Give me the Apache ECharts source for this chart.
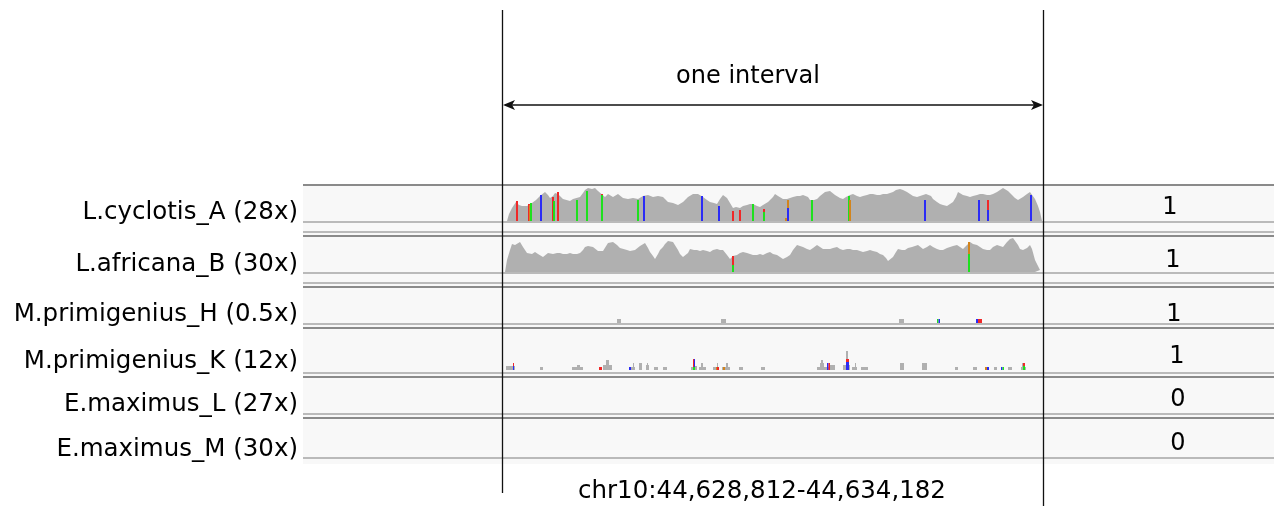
<!DOCTYPE html>
<html><head><meta charset="utf-8">
<script src="https://cdn.jsdelivr.net/npm/echarts@6/dist/echarts.min.js"></script>
<style>html,body{margin:0;padding:0;background:#fff}#c{width:1274px;height:507px}</style>
</head><body><div id="c"></div>
<script>
// ---------------- DATA ----------------
const sampleLabels = ['L.cyclotis_A (28x)','L.africana_B (30x)','M.primigenius_H (0.5x)','M.primigenius_K (12x)','E.maximus_L (27x)','E.maximus_M (30x)'];
const sampleCalls = [1,1,1,1,0,0];
const regionLabel = 'chr10:44,628,812-44,634,182';
const intervalLabel = 'one interval';
// x = bin index across the interval (542 bins of ~9.9 bp), y = autoscaled depth
const covA = [[5,0],[7,7],[10,13],[14,19],[17,16],[20,15],[25,15],[30,18],[34,21],[38,25],[43,29],[46,26],[48,23],[51,25],[53,28],[56,27],[58,26],[61,22],[63,21],[68,20],[71,22],[73,23],[78,24],[81,28],[83,31],[86,33],[88,34],[90,32],[93,33],[96,30],[98,28],[103,24],[106,27],[108,26],[111,24],[113,23],[116,27],[118,26],[121,23],[123,24],[126,22],[128,21],[131,23],[133,24],[136,22],[138,23],[141,25],[143,24],[146,26],[148,26],[151,24],[153,23],[156,25],[158,26],[161,24],[163,23],[166,19],[168,17],[171,18],[173,18],[176,16],[178,17],[181,19],[183,21],[186,24],[188,23],[191,27],[193,29],[196,27],[198,25],[201,24],[205,21],[208,19],[212,18],[215,17],[218,22],[221,26],[225,23],[228,18],[231,13],[234,14],[238,13],[241,15],[245,16],[248,17],[251,17],[255,15],[258,14],[261,16],[263,17],[266,19],[268,20],[271,24],[273,27],[276,25],[278,23],[281,22],[285,22],[288,23],[291,24],[295,25],[298,25],[301,26],[303,27],[306,24],[308,21],[312,21],[315,22],[318,25],[320,27],[323,29],[325,31],[328,30],[330,29],[333,26],[335,24],[338,23],[341,22],[344,24],[346,25],[348,26],[351,27],[355,25],[358,24],[361,25],[365,26],[368,27],[371,27],[375,26],[378,26],[381,27],[385,27],[388,28],[391,29],[394,31],[396,33],[398,32],[401,31],[405,29],[408,27],[411,25],[415,24],[418,25],[421,26],[424,27],[426,28],[429,25],[431,22],[435,19],[438,17],[441,16],[445,15],[448,17],[451,19],[454,24],[456,29],[458,28],[461,26],[465,25],[468,24],[471,25],[475,26],[478,27],[481,27],[485,26],[488,26],[491,27],[495,29],[498,31],[501,33],[503,34],[506,30],[510,26],[513,23],[516,21],[518,22],[521,24],[525,27],[528,29],[530,27],[533,22],[536,15],[538,9],[540,0]];
const covB = [[3,0],[5,12],[8,22],[10,28],[13,27],[15,27],[18,30],[21,25],[25,19],[30,18],[33,20],[36,18],[38,16],[41,15],[46,19],[48,18],[51,18],[55,19],[58,19],[61,18],[65,18],[68,19],[71,18],[75,18],[78,19],[81,22],[83,25],[86,26],[88,27],[91,25],[93,23],[96,21],[98,20],[101,21],[103,22],[106,29],[108,30],[111,30],[113,28],[115,27],[118,24],[120,22],[125,22],[128,21],[130,20],[133,22],[135,23],[138,26],[140,28],[143,29],[146,24],[148,20],[151,16],[153,13],[156,18],[158,22],[161,25],[163,28],[166,31],[168,33],[171,30],[173,28],[176,22],[178,18],[181,15],[183,13],[186,19],[188,23],[192,22],[195,22],[198,21],[201,22],[205,21],[208,20],[211,22],[215,23],[218,22],[221,22],[225,17],[228,13],[231,16],[233,15],[235,17],[238,19],[241,20],[245,19],[248,18],[251,17],[255,17],[258,18],[261,17],[265,19],[268,20],[271,18],[275,17],[278,15],[281,13],[285,15],[288,17],[291,22],[295,27],[298,26],[301,25],[305,23],[308,22],[311,24],[315,27],[318,25],[321,23],[325,23],[328,23],[331,24],[335,25],[338,23],[341,22],[345,23],[348,23],[351,22],[355,22],[358,21],[361,20],[365,21],[368,22],[371,21],[375,20],[378,18],[381,17],[384,14],[386,11],[388,12],[391,15],[394,20],[396,23],[400,22],[403,22],[406,24],[410,25],[413,26],[416,27],[418,25],[421,23],[425,25],[428,27],[431,25],[435,23],[438,22],[441,22],[445,24],[448,25],[451,26],[455,27],[458,25],[461,23],[465,27],[468,30],[471,28],[475,27],[478,25],[481,23],[485,22],[488,22],[491,25],[495,27],[498,26],[501,25],[505,30],[508,33],[511,34],[513,33],[516,27],[518,23],[521,22],[525,24],[528,27],[530,23],[533,12],[536,6],[538,2],[540,0]];
// mismatch segments: [bin, fromDepth, toDepth, base]
const misA = [[15,0,20,'T'],[27,0,17,'T'],[28,0,16,'G'],[29,0,18,'A'],[39,0,26,'C'],[51,0,24,'T'],[52,0,20,'A'],[56,0,29,'T'],[75,0,21,'A'],[85,0,30,'A'],[100,0,26,'A'],[100,26,27,'T'],[136,0,21,'A'],[142,0,25,'C'],[200,0,25,'C'],[217,0,15,'C'],[231,0,10,'T'],[238,0,11,'T'],[251,0,17,'A'],[262,0,9,'A'],[262,9,12,'T'],[284,0,3,'G'],[286,0,13,'C'],[286,13,21,'G'],[310,0,21,'A'],[347,0,25,'A'],[348,0,21,'G'],[423,0,21,'C'],[477,0,21,'C'],[486,0,11,'C'],[486,11,21,'T'],[529,0,26,'C']];
const misB = [[231,0,7,'A'],[231,7,16,'T'],[467,0,18,'A'],[467,18,30,'G']];
// sparse coverage blocks: [fromBin, toBin, fromDepth, toDepth, base] (N = reference)
const blocksH = [[115,119,0,4,'N'],[219,224,0,4,'N'],[397,402,0,4,'N'],[435,436.5,0,4,'A'],[436.5,438,0,4,'C'],[474,476,0,4,'C'],[476,480,0,4,'T']];
const blocksK = [[4,11,0,4,'N'],[11,12,0,4,'C'],[11,12,4,7,'T'],[12,13,0,4,'N'],[38,41,0,3,'N'],[70,81,0,3,'N'],[75,78,0,5,'N'],[97,100,0,3,'T'],[101,110,0,5,'N'],[104,107,0,10,'N'],[127,129,0,3,'C'],[129,133,0,3,'N'],[131,132,0,7,'N'],[137,140,0,7,'N'],[144,147,0,5,'N'],[145,146,0,7,'N'],[152,156,0,3,'N'],[161,165,0,3,'N'],[189,191,0,3,'N'],[191,193,0,3,'A'],[191,192,3,11,'T'],[192,193,3,11,'C'],[193,195,0,4,'N'],[197,204,0,3,'N'],[199,201,0,7,'N'],[211,214,0,3,'N'],[214,215,0,3,'G'],[215,217,0,3,'T'],[215,216,3,7,'N'],[220,228,0,3,'N'],[221,223,0,3,'G'],[224,226,0,7,'N'],[237,241,0,3,'N'],[259,263,0,3,'N'],[315,333,0,3,'N'],[318,322,0,7,'N'],[319,321,0,10,'N'],[325,326.5,0,7,'C'],[326.5,328,0,7,'T'],[328,333,0,5,'N'],[341,348,0,5,'N'],[344,346,0,19,'N'],[344,347,0,8,'C'],[344,347,8,11,'T'],[350,355,0,3,'N'],[353,354,0,7,'N'],[359,366,0,3,'N'],[398,402,0,7,'N'],[420,425,0,7,'N'],[453,456,0,3,'N'],[471,475,0,3,'N'],[483,485,0,3,'G'],[485,487,0,3,'C'],[492,495,0,3,'N'],[499,500.5,0,3,'C'],[500.5,502,0,3,'A'],[506,510,0,3,'N'],[519,524,0,3,'N'],[520,521,3,7,'N'],[521,523,0,4,'A'],[521,523,4,7,'T']];
const NBINS = 542;
const DEPTH_MAX = 36;

// ---------------- STYLE / LAYOUT ----------------
const baseColors = {A:'#1ee01e', C:'#2b2bf5', G:'#d2841c', T:'#f02828', N:'#b0b0b0'};
const PLOT_L = 502, PLOT_W = 542, TRACK_H = 36;
const baselines = [221, 272, 323, 370, 413, 457];
const labelY = [213, 265, 315, 362, 405, 449.5];
const callY = [208, 261, 315, 356.5, 400, 444];
const callX = [1170, 1173, 1174, 1177, 1178, 1178];
const FONT = '"DejaVu Sans", Verdana, sans-serif';

const chart = echarts.init(document.getElementById('c'), null, {renderer:'canvas'});

const grids = [], xAxes = [], yAxes = [];
baselines.forEach((b, i) => {
  grids.push({left: PLOT_L, top: b - TRACK_H, width: PLOT_W, height: TRACK_H, containLabel: false});
  xAxes.push({type:'value', gridIndex:i, min:0, max:NBINS, show:false});
  yAxes.push({type:'value', gridIndex:i, min:0, max:DEPTH_MAX, show:false});
});

function areaSeries(data, idx){
  return {type:'line', xAxisIndex:idx, yAxisIndex:idx, data:data, symbol:'none', showSymbol:false,
    lineStyle:{width:0}, areaStyle:{color:'#b0b0b0', opacity:1}, silent:true, z:2};
}
function misSeries(data, idx){
  return {type:'custom', xAxisIndex:idx, yAxisIndex:idx, silent:true, z:3,
    data: data.map(d => [d[0], d[1], d[2]]),
    encode:{x:0, y:[1,2]},
    renderItem: function(params, api){
      const base = data[params.dataIndex][3];
      const p0 = api.coord([api.value(0), api.value(1)]);
      const p1 = api.coord([api.value(0), api.value(2)]);
      return {type:'rect', shape:{x:p0[0]-1, y:p1[1], width:2, height:p0[1]-p1[1]}, style:{fill: baseColors[base]}};
    }};
}
function blockSeries(data, idx){
  return {type:'custom', xAxisIndex:idx, yAxisIndex:idx, silent:true, z:3,
    data: data.map(d => [d[0], d[1], d[2], d[3]]),
    encode:{x:[0,1], y:[2,3]},
    renderItem: function(params, api){
      const base = data[params.dataIndex][4];
      const a = api.coord([api.value(0), api.value(2)]);
      const b = api.coord([api.value(1), api.value(3)]);
      return {type:'rect', shape:{x:a[0], y:b[1], width:b[0]-a[0], height:a[1]-b[1]}, style:{fill: baseColors[base]}};
    }};
}

const series = [
  areaSeries(covA, 0), misSeries(misA, 0),
  areaSeries(covB, 1), misSeries(misB, 1),
  blockSeries(blocksH, 2),
  blockSeries(blocksK, 3)
];

// decorations
const graphics = [];
graphics.push({type:'rect', shape:{x:303, y:184, width:971, height:280}, style:{fill:'#f8f8f8'}, z:-5, silent:true});
const sepLines = [[185,'d'],[222,'l'],[232,'l'],[236,'d'],[273,'l'],[283,'l'],[287,'d'],[324,'l'],[328,'d'],[373,'l'],[377,'d'],[414,'l'],[418,'d'],[458,'l']];
sepLines.forEach(s => {
  graphics.push({type:'line', shape:{x1:303, y1:s[0], x2:1274, y2:s[0]},
    style:{stroke: s[1]==='d' ? '#8a8a8a' : '#a6a6a6', lineWidth: s[1]==='d' ? 2 : 1.6}, z:5, silent:true});
});
sampleLabels.forEach((t, i) => {
  graphics.push({type:'text', x:298, y:labelY[i], z:10, silent:true,
    style:{text:t, fill:'#000', font:'24.5px ' + FONT, textAlign:'right', textVerticalAlign:'middle'}});
  graphics.push({type:'text', x:callX[i], y:callY[i], z:10, silent:true,
    style:{text:String(sampleCalls[i]), fill:'#000', font:'24px ' + FONT, textAlign:'center', textVerticalAlign:'middle'}});
});
// interval markers
graphics.push({type:'line', shape:{x1:502.5, y1:10, x2:502.5, y2:493}, style:{stroke:'#111', lineWidth:1.3}, z:20, silent:true});
graphics.push({type:'line', shape:{x1:1043.5, y1:10, x2:1043.5, y2:506}, style:{stroke:'#111', lineWidth:1.3}, z:20, silent:true});
graphics.push({type:'line', shape:{x1:505, y1:105, x2:1041, y2:105}, style:{stroke:'#111', lineWidth:1.3}, z:20, silent:true});
graphics.push({type:'polygon', shape:{points:[[503,105],[515,100],[512,105],[515,110]]}, style:{fill:'#111'}, z:20, silent:true});
graphics.push({type:'polygon', shape:{points:[[1043,105],[1031,100],[1034,105],[1031,110]]}, style:{fill:'#111'}, z:20, silent:true});
graphics.push({type:'text', x:748, y:77, z:20, silent:true,
  style:{text:intervalLabel, fill:'#000', font:'24px ' + FONT, textAlign:'center', textVerticalAlign:'middle'}});
graphics.push({type:'text', x:762, y:492, z:20, silent:true,
  style:{text:regionLabel, fill:'#000', font:'24.5px ' + FONT, textAlign:'center', textVerticalAlign:'middle'}});

chart.setOption({
  animation:false,
  backgroundColor:'#ffffff',
  grid: grids, xAxis: xAxes, yAxis: yAxes,
  series: series,
  graphic: {elements: graphics}
});
</script></body></html>
